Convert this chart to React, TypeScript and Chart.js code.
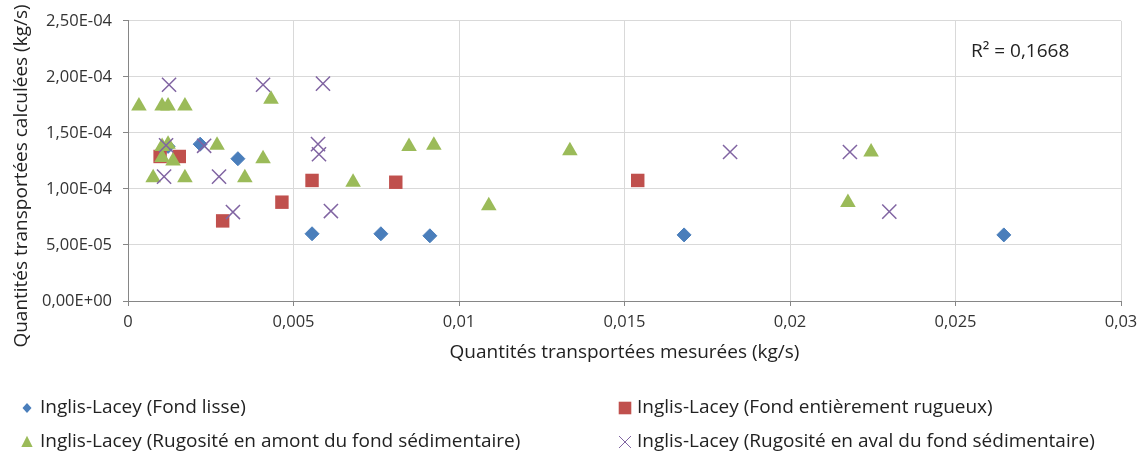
import React, { useEffect, useRef } from 'react';
import { Chart, registerables } from 'chart.js';

Chart.register(...registerables);

const FONT = '"Open Sans", Lato, sans-serif';

// Series labels
const seriesLabels = [
  'Inglis-Lacey (Fond lisse)',
  'Inglis-Lacey (Fond entièrement rugueux)',
  'Inglis-Lacey (Rugosité en amont du fond sédimentaire)',
  'Inglis-Lacey (Rugosité en aval du fond sédimentaire)',
];

// Fond lisse
const lisseX = [0.00121, 0.00218, 0.00332, 0.00556, 0.00764, 0.00912, 0.0168, 0.02646];
const lisseY = [1.38e-4, 1.40e-4, 1.27e-4, 6.0e-5, 6.0e-5, 5.82e-5, 5.9e-5, 5.9e-5];

// Fond entièrement rugueux
const rugueuxX = [0.00097, 0.00155, 0.00286, 0.00465, 0.00556, 0.00809, 0.0154];
const rugueuxY = [1.29e-4, 1.29e-4, 7.15e-5, 8.82e-5, 1.076e-4, 1.06e-4, 1.076e-4];

// Rugosité en amont
const amontX = [0.00033, 0.00103, 0.00121, 0.00172, 0.00432, 0.00103, 0.00121, 0.00103, 0.00136, 0.00269, 0.00408, 0.00076, 0.00172, 0.00353, 0.0068, 0.00849, 0.00924, 0.0109, 0.01335, 0.02175, 0.02245];
const amontY = [1.74e-4, 1.74e-4, 1.74e-4, 1.74e-4, 1.80e-4, 1.38e-4, 1.40e-4, 1.28e-4, 1.25e-4, 1.39e-4, 1.27e-4, 1.10e-4, 1.10e-4, 1.10e-4, 1.06e-4, 1.38e-4, 1.39e-4, 8.5e-5, 1.34e-4, 8.8e-5, 1.33e-4];

// Rugosité en aval
const avalX = [0.00124, 0.00408, 0.00589, 0.00115, 0.0023, 0.00574, 0.00577, 0.00109, 0.00275, 0.00317, 0.00613, 0.01819, 0.02181, 0.023];
const avalY = [1.93e-4, 1.93e-4, 1.94e-4, 1.39e-4, 1.385e-4, 1.40e-4, 1.31e-4, 1.11e-4, 1.11e-4, 7.94e-5, 8.03e-5, 1.33e-4, 1.33e-4, 7.98e-5];

const r2Text = 'R² = 0,1668';
const xTitle = 'Quantités transportées mesurées (kg/s)';
const yTitle = 'Quantités transportées calculées (kg/s)';

const colors = ['#4A7EBB', '#C0504D', '#9BBB59', '#8064A2'];
const styles = ['rectRot', 'rect', 'triangle', 'crossRot'];

const zip = (xs: number[], ys: number[]) => xs.map((x, i) => ({ x, y: ys[i] }));

function sci(v: number): string {
  if (Math.abs(v) < 1e-12) return '0,00E+00';
  const [m, e] = v.toExponential(2).split('e');
  const n = parseInt(e, 10);
  return m.replace('.', ',') + 'E' + (n < 0 ? '-' : '+') + String(Math.abs(n)).padStart(2, '0');
}

function drawMarker(ctx: CanvasRenderingContext2D, style: string, x: number, y: number, s: number, color: string) {
  ctx.save();
  ctx.fillStyle = color;
  ctx.strokeStyle = color;
  ctx.beginPath();
  if (style === 'rectRot') {
    ctx.moveTo(x - s, y);
    ctx.lineTo(x, y - s * 1.1);
    ctx.lineTo(x + s, y);
    ctx.lineTo(x, y + s * 1.1);
    ctx.closePath();
    ctx.fill();
  } else if (style === 'rect') {
    ctx.rect(x - s, y - s, 2 * s, 2 * s);
    ctx.fill();
  } else if (style === 'triangle') {
    ctx.moveTo(x, y - s);
    ctx.lineTo(x + s * 0.9, y + s * 0.8);
    ctx.lineTo(x - s * 0.9, y + s * 0.8);
    ctx.closePath();
    ctx.fill();
  } else {
    ctx.lineWidth = 1;
    ctx.moveTo(x - s, y - s);
    ctx.lineTo(x + s, y + s);
    ctx.moveTo(x + s, y - s);
    ctx.lineTo(x - s, y + s);
    ctx.stroke();
  }
  ctx.restore();
}

const textPlugin = {
  id: 'customTexts',
  afterDraw(chart: any) {
    const ctx: CanvasRenderingContext2D = chart.ctx;
    const colMarkerX = [27, 625];
    const colTextX = [40, 637];
    const rowY = [408, 442];
    const sizes = [4.5, 6.3, 6.3, 6];
    ctx.save();
    ctx.font = `19px ${FONT}`;
    ctx.textBaseline = 'middle';
    ctx.textAlign = 'left';
    seriesLabels.forEach((label, i) => {
      const c = i % 2;
      const r = Math.floor(i / 2);
      drawMarker(ctx, styles[i], colMarkerX[c], rowY[r], sizes[i], colors[i]);
      ctx.fillStyle = '#222222';
      ctx.fillText(label, colTextX[c], rowY[r]);
    });
    // R² annotation
    ctx.font = `19px ${FONT}`;
    ctx.fillStyle = '#222222';
    ctx.fillText(r2Text, 971, 52);
    // Y axis title
    ctx.translate(22, 176);
    ctx.rotate(-Math.PI / 2);
    ctx.textAlign = 'center';
    ctx.fillText(yTitle, 0, 0);
    ctx.restore();
  },
};

export default function App() {
  const ref = useRef<HTMLCanvasElement>(null);
  useEffect(() => {
    document.body.style.margin = '0';
    const datasets = [
      { label: seriesLabels[0], data: zip(lisseX, lisseY), pointStyle: 'rectRot', pointRadius: 7, backgroundColor: colors[0], borderColor: colors[0], borderWidth: 1, order: 4 },
      { label: seriesLabels[1], data: zip(rugueuxX, rugueuxY), pointStyle: 'rect', pointRadius: 9.5, backgroundColor: colors[1], borderColor: colors[1], borderWidth: 0, order: 3 },
      { label: seriesLabels[2], data: zip(amontX, amontY), pointStyle: 'triangle', pointRadius: 9, backgroundColor: colors[2], borderColor: colors[2], borderWidth: 0, order: 2 },
      { label: seriesLabels[3], data: zip(avalX, avalY), pointStyle: 'crossRot', pointRadius: 10, backgroundColor: colors[3], borderColor: colors[3], borderWidth: 1.5, order: 1 },
    ];
    const chart = new Chart(ref.current!, {
      type: 'scatter',
      data: { datasets: datasets as any },
      plugins: [textPlugin],
      options: {
        animation: false,
        responsive: false,
        devicePixelRatio: 1,
        events: [],
        layout: { padding: { top: 18, right: 23, left: 0, bottom: 0 } },
        plugins: { legend: { display: false }, tooltip: { enabled: false }, title: { display: false } },
        scales: {
          x: {
            type: 'linear',
            min: 0,
            max: 0.03,
            ticks: {
              stepSize: 0.005,
              padding: 6,
              color: '#333333',
              font: { family: FONT, size: 16.5 },
              maxRotation: 0,
              callback: (v: any) => Number(Number(v).toFixed(4)).toString().replace('.', ','),
            },
            grid: { color: '#D9D9D9', tickColor: '#868686', tickLength: 5 },
            border: { color: '#868686', width: 1 },
            title: { display: true, text: xTitle, color: '#222222', font: { family: FONT, size: 19 }, padding: { top: 0, bottom: 90.5 } },
            afterFit: (s: any) => { s.height = 153; },
          },
          y: {
            type: 'linear',
            min: 0,
            max: 2.5e-4,
            ticks: {
              stepSize: 5e-5,
              padding: 11,
              color: '#333333',
              font: { family: FONT, size: 16.5 },
              callback: (v: any) => sci(Number(v)),
            },
            grid: { color: '#D9D9D9', tickColor: '#868686', tickLength: 5 },
            border: { color: '#868686', width: 1 },
            title: { display: false },
            afterFit: (s: any) => { s.width = 128; },
          },
        },
      } as any,
    });
    return () => chart.destroy();
  }, []);
  return (
    <div style={{ width: 1144, height: 454, position: 'relative', background: '#fff' }}>
      <canvas ref={ref} width={1144} height={454} />
    </div>
  );
}
